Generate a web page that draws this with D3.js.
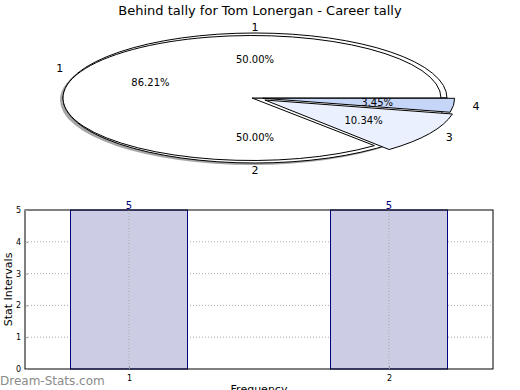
<!DOCTYPE html>
<html>
<head>
<meta charset="utf-8">
<script src="https://cdn.jsdelivr.net/npm/d3@7"></script>
<style>
	body { margin: 0; background: #fff; }
	svg { font-family: "DejaVu Sans", sans-serif; }
</style>
</head>
<body>
<div id="chart"></div>
<script>
// pie 1 (outer, 50/50)
const outerLabels = ["1", "2"];
const outerValues = [50, 50];
// pie 2 (career tally)
const innerLabels = ["1", "3", "4"];
const innerValues = [86.21, 10.34, 3.45];
const innerColors = ["#ffffff", "#eaf0fd", "#c6d6f9"];
const innerExplode = [0, 0.06, 0.04];

// bar chart
const barCategories = [1, 2];
const barValues = [5, 5];
const yTicks = [0, 1, 2, 3, 4, 5];

const width = 520, height = 390;

const svg = d3.select("#chart").append("svg")
	.attr("width", width)
	.attr("height", height);

svg.append("text")
	.attr("x", 260).attr("y", 15)
	.attr("text-anchor", "middle")
	.style("font-size", "13px")
	.text("Behind tally for Tom Lonergan - Career tally");

// ---- pie ----
const cx = 255, cy = 98, rx = 192, ry = 65;

// matplotlib style: start at 3 o'clock, counterclockwise
const pie = d3.pie().sort(null).startAngle(Math.PI / 2).endAngle(Math.PI / 2 - 2 * Math.PI);
const outerArcs = pie(outerValues);
const innerArcs = pie(innerValues);

// d3 angle -> ellipse point
const pt = (a, k) => [cx + k * rx * Math.sin(a), cy - k * ry * Math.cos(a)];

const arc = d3.arc().innerRadius(0).outerRadius(ry);
const pieG = (px, py, sx, sy) => svg.append("g")
	.attr("transform", `translate(${px},${py}) scale(${sx / ry},${sy / ry})`);

// shadow
pieG(cx - 3, cy + 2, rx, ry).selectAll("path").data(outerArcs).enter().append("path")
	.attr("d", arc)
	.attr("fill", "#000").attr("opacity", 0.35);

// outer 50/50 pie
pieG(cx, cy, rx, ry).selectAll("path").data(outerArcs).enter().append("path")
	.attr("d", arc)
	.attr("fill", "#fff").attr("stroke", "#000")
	.attr("stroke-width", 1).attr("vector-effect", "non-scaling-stroke");

// inner pie
innerArcs.forEach((d, i) => {
	const mid = (d.startAngle + d.endAngle) / 2;
	const e = innerExplode[i];
	let px = cx + e * rx * Math.sin(mid), py = cy - e * ry * Math.cos(mid);
	let sx = rx, sy = ry;
	if (i === 0) { px = cx - 3; sx = rx - 3; sy = ry - 2.5; }
	pieG(px, py, sx, sy).append("path")
		.attr("d", arc(d))
		.attr("fill", innerColors[i]).attr("stroke", "#000")
		.attr("stroke-width", 1).attr("vector-effect", "non-scaling-stroke");
});

const labelFont = "10px";
const addPieText = (arcs, labels, explode) => {
	const total = d3.sum(arcs, a => a.value);
	arcs.forEach((d, i) => {
		const mid = (d.startAngle + d.endAngle) / 2;
		const e = explode ? explode[i] : 0;
		const [lx, ly] = pt(mid, 1.1 + e);
		const sx = Math.sin(mid);
		svg.append("text")
			.attr("x", lx).attr("y", ly + 4)
			.attr("text-anchor", Math.abs(sx) < 0.05 ? "middle" : (sx > 0 ? "start" : "end"))
			.style("font-size", "11px")
			.text(labels[i]);
		const [px, py] = pt(mid, 0.6 + e);
		svg.append("text")
			.attr("x", px).attr("y", py + 4)
			.attr("text-anchor", "middle")
			.style("font-size", labelFont)
			.text((d.value / total * 100).toFixed(2) + "%");
	});
};
addPieText(outerArcs, outerLabels);
addPieText(innerArcs, innerLabels, innerExplode);

// ---- bar chart ----
const plot = { left: 25, right: 493, top: 210, bottom: 369 };

const x = d3.scaleLinear().domain([0.6, 2.4]).range([plot.left, plot.right]);
const y = d3.scaleLinear().domain([0, 5]).range([plot.bottom, plot.top]);

const g = svg.append("g");

// grid
g.selectAll(".hgrid").data(yTicks.slice(1, -1)).enter().append("line")
	.attr("x1", plot.left).attr("x2", plot.right)
	.attr("y1", d => y(d)).attr("y2", d => y(d))
	.attr("stroke", "#aaa").attr("stroke-dasharray", "1,2");

const barW = 0.45;
g.selectAll(".bar").data(barValues).enter().append("rect")
	.attr("x", (d, i) => x(barCategories[i] - barW / 2))
	.attr("y", d => y(d))
	.attr("width", x(barW) - x(0))
	.attr("height", d => y(0) - y(d))
	.attr("fill", "#ccccE4")
	.attr("stroke", "#000080");

g.selectAll(".vgrid").data(barCategories).enter().append("line")
	.attr("x1", d => x(d)).attr("x2", d => x(d))
	.attr("y1", plot.top).attr("y2", plot.bottom)
	.attr("stroke", "#aaa").attr("stroke-dasharray", "1,2");

g.selectAll(".val").data(barValues).enter().append("text")
	.attr("x", (d, i) => x(barCategories[i]))
	.attr("y", d => y(d) - 1)
	.attr("text-anchor", "middle")
	.attr("fill", "#000080")
	.style("font-size", "10px")
	.text(d => d);

g.append("rect")
	.attr("x", plot.left).attr("y", plot.top)
	.attr("width", plot.right - plot.left).attr("height", plot.bottom - plot.top)
	.attr("fill", "none").attr("stroke", "#000");

const yAxis = g.append("g")
	.attr("transform", `translate(${plot.left},0)`)
	.call(d3.axisLeft(y).tickValues(yTicks).tickSize(-3).tickPadding(4).tickFormat(d3.format("d")));
const xAxis = g.append("g")
	.attr("transform", `translate(0,${plot.bottom})`)
	.call(d3.axisBottom(x).tickValues(barCategories).tickSize(-3).tickPadding(6).tickFormat(d3.format("d")));
[yAxis, xAxis].forEach(a => {
	a.select(".domain").remove();
	a.selectAll(".tick line").attr("stroke", "#999");
	a.selectAll(".tick text").style("font-size", "8px").style("font-family", "DejaVu Sans");
});

svg.append("text")
	.attr("transform", `translate(12,${(plot.top + plot.bottom) / 2}) rotate(-90)`)
	.attr("text-anchor", "middle")
	.style("font-size", "11px")
	.text("Stat Intervals");

svg.append("text")
	.attr("x", (plot.left + plot.right) / 2).attr("y", 393)
	.attr("text-anchor", "middle")
	.style("font-size", "11px")
	.text("Frequency");

svg.append("text")
	.attr("x", 0).attr("y", 385)
	.attr("fill", "#8a8a8a")
	.style("font-size", "12px")
	.text("Dream-Stats.com");
</script>
</body>
</html>
